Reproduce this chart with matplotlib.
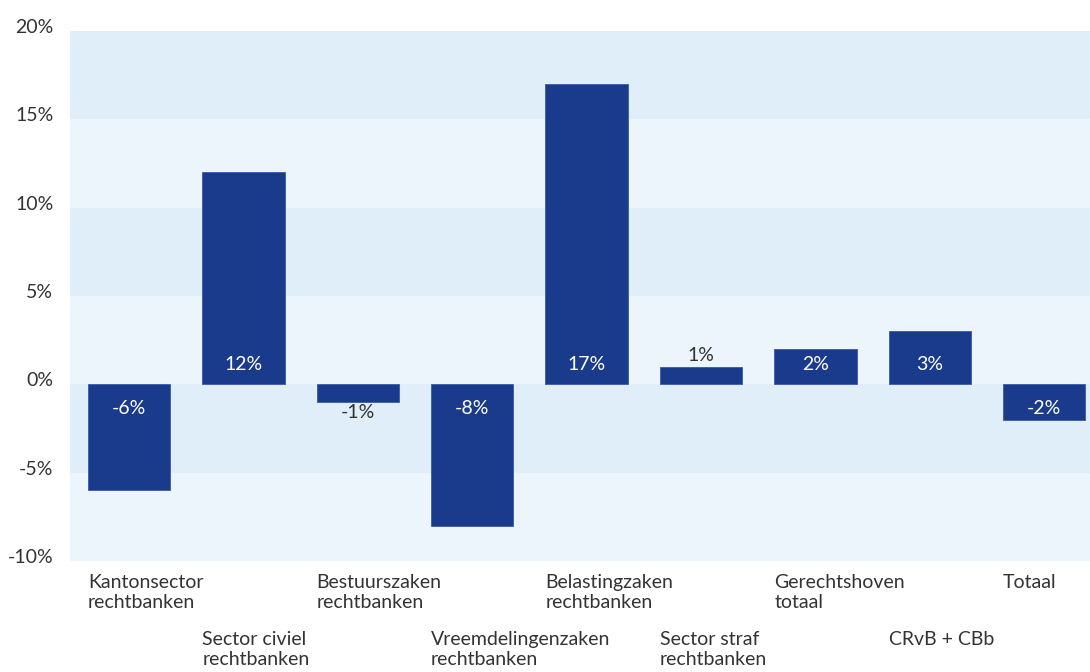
import matplotlib
matplotlib.use("Agg")
import matplotlib.pyplot as plt
from matplotlib.ticker import FuncFormatter
from matplotlib.transforms import ScaledTranslation

categories = ["Kantonsector\nrechtbanken", "Sector civiel\nrechtbanken", "Bestuurszaken\nrechtbanken",
              "Vreemdelingenzaken\nrechtbanken", "Belastingzaken\nrechtbanken", "Sector straf\nrechtbanken",
              "Gerechtshoven\ntotaal", "CRvB + CBb", "Totaal"]
values = [-6, 12, -1, -8, 17, 1, 2, 3, -2]
yticks = [-10, -5, 0, 5, 10, 15, 20]

plt.rcParams['font.family'] = ['Lato', 'DejaVu Sans']

fig = plt.figure(figsize=(10.9, 6.72), dpi=100)
ax = fig.add_axes([70/1090, 1 - 561/672, 1020/1090, 530/672])

bar_color = "#1a3b8c"
dark = "#e0eef9"
light = "#edf5fc"
for i in range(len(yticks) - 1):
    lo, hi = yticks[i], yticks[i + 1]
    ax.axhspan(lo, hi, color=(light if i % 2 == 0 else dark), zorder=0, lw=0)

x = list(range(len(categories)))
w = 0.72
ax.bar(x, values, width=w, color=bar_color, edgecolor="#3a5aa8", linewidth=0.6, zorder=2)

fs = 14
for xi, v in zip(x, values):
    if abs(v) >= 2:
        if v > 0:
            ax.text(xi, 1.1, f"{v}%", ha="center", va="center", color="white", fontsize=fs, zorder=3)
        else:
            ax.text(xi, -1.35, f"{v}%", ha="center", va="center", color="white", fontsize=fs, zorder=3)
    else:
        if v > 0:
            ax.text(xi, v + 0.65, f"{v}%", ha="center", va="center", color="#333333", fontsize=fs, zorder=3)
        else:
            ax.text(xi, v - 0.6, f"{v}%", ha="center", va="center", color="#333333", fontsize=fs, zorder=3)

ax.set_ylim(-10, 20)
ax.set_xlim(-0.516, 8.4)
ax.set_yticks(yticks)
ax.yaxis.set_major_formatter(FuncFormatter(lambda v, p: f"{int(v)}%"))
ax.tick_params(axis="y", length=0, pad=12, labelsize=14, labelcolor="#333333")
ax.set_xticks([])
for s in ax.spines.values():
    s.set_visible(False)
shift = ScaledTranslation(0, 5 / 100, fig.dpi_scale_trans)
for lab in ax.get_yticklabels():
    lab.set_transform(lab.get_transform() + shift)

for xi, c in zip(x, categories):
    y = -10.75 if xi % 2 == 0 else -13.95
    ax.text(xi - w / 2, y, c, ha="left", va="top", fontsize=14, color="#333333",
            linespacing=1.2, clip_on=False)

fig.savefig("out.png", dpi=100, facecolor="white")
